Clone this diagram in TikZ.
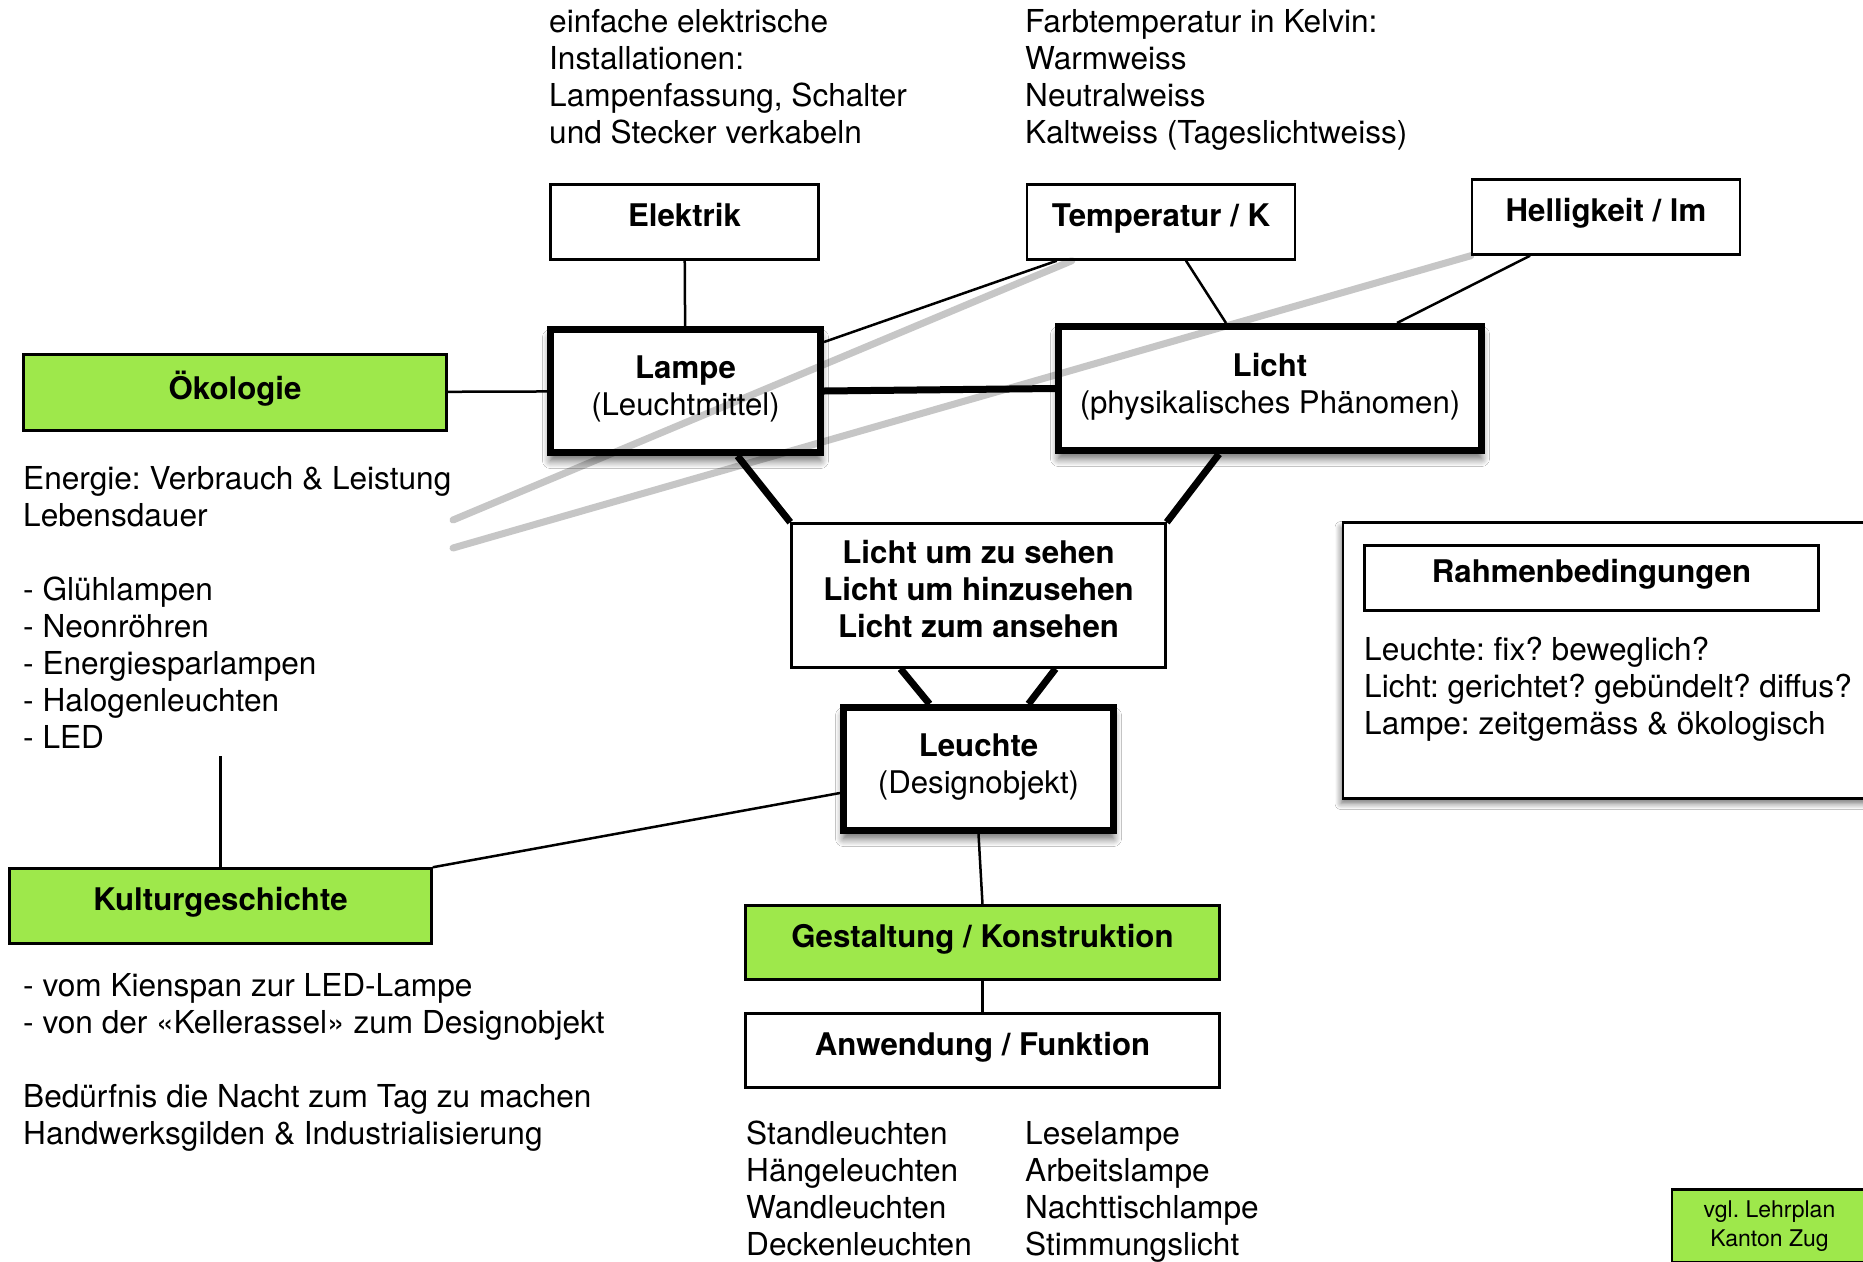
\documentclass[tikz,border=0pt]{standalone}
\usepackage{fontspec}
\setmainfont{TeX Gyre Heros}
\usetikzlibrary{shadows.blur}
\definecolor{kgreen}{RGB}{158,232,75}
\definecolor{kgray}{RGB}{198,198,198}
\newcommand{\dstr}{\rule[-14pt]{0pt}{14pt}}
\newcommand{\tstr}{\rule[-10pt]{0pt}{10pt}}
\frenchspacing
\begin{document}
\frenchspacing
\begin{tikzpicture}[x=1pt,y=-1pt,
  txt/.style={anchor=base west, align=left, inner sep=0pt, font=\fontsize{31.6}{37}\selectfont},
  thinbox/.style={draw, line width=2.5pt, fill=white, align=center, inner sep=0pt,
    font=\bfseries\fontsize{31.2}{37}\selectfont},
  greenbox/.style={thinbox, fill=kgreen},
  thickbox/.style={draw, line width=7pt, fill=white, align=center, inner sep=0pt,
    font=\fontsize{31.2}{37}\selectfont,
    blur shadow={shadow xshift=0pt, shadow yshift=-8pt, shadow blur radius=8pt,
      shadow blur steps=10, shadow opacity=60}},
  link/.style={line width=2.5pt},
  heavy/.style={line width=7pt},
  glink/.style={kgray, line width=7pt, line cap=round}]
\useasboundingbox (0,0) rectangle (1863,1261);
\fill[white] (0,0) rectangle (1863,1261);
\clip (0,0) rectangle (1863,1261);

% top texts (anchor = baseline of last line)
\node[txt] (t1) at (549,143) {einfache elektrische\\Installationen:\\Lampenfassung, Schalter\\und Stecker verkabeln};
\node[txt] (t2) at (1025,143) {Farbtemperatur in Kelvin:\\Warmweiss\\Neutralweiss\\Kaltweiss (Tageslichtweiss)};

% boxes
\node[thinbox, minimum width=268pt, minimum height=75pt] (elek) at (684.5,222) {Elektrik\dstr};
\node[thinbox, minimum width=268pt, minimum height=75pt] (temp) at (1161,222) {Temperatur / K\dstr};
\node[thinbox, minimum width=268pt, minimum height=75pt] (hell) at (1606,217) {Helligkeit / lm\dstr};
\node[greenbox, minimum width=423pt, minimum height=76pt] (oeko) at (235,392.5) {Ökologie\dstr};
\node[thickbox, minimum width=270pt, minimum height=123pt] (lampe) at (685.5,391) {\textbf{Lampe}\\(Leuchtmittel)\tstr};
\node[thickbox, minimum width=423pt, minimum height=124pt] (licht) at (1270,388.5) {\textbf{Licht}\\(physikalisches Phänomen)\tstr};
\node[thinbox, minimum width=374pt, minimum height=144pt] (mid) at (978.5,595.5) {Licht um zu sehen\\Licht um hinzusehen\\Licht zum ansehen\dstr};
\node[thickbox, minimum width=270pt, minimum height=123pt] (leuchte) at (978.5,769) {\textbf{Leuchte}\\(Designobjekt)\tstr};
\node[greenbox, minimum width=422pt, minimum height=75pt] (kultur) at (220.5,906) {Kulturgeschichte\dstr};
\node[greenbox, minimum width=474pt, minimum height=74pt] (gest) at (982.5,942.5) {Gestaltung / Konstruktion\dstr};
\node[thinbox, minimum width=474pt, minimum height=74pt] (anw) at (982.5,1050.5) {Anwendung / Funktion\dstr};

% Rahmenbedingungen
\node[draw, line width=2.5pt, fill=white, minimum width=556pt, minimum height=276pt, inner sep=0pt,
  blur shadow={shadow xshift=-2pt, shadow yshift=-5pt, shadow blur radius=6pt, shadow blur steps=8, shadow opacity=55}]
  (rahmen) at (1621,660.5) {};
\node[thinbox, minimum width=454pt, minimum height=65pt] (rahmenT) at (1591.5,578) {Rahmenbedingungen\dstr};
\node[txt] (t5) at (1364,734) {Leuchte: fix? beweglich?\\Licht: gerichtet? gebündelt? diffus?\\Lampe: zeitgemäss \& ökologisch};

% side texts
\node[txt] (t3) at (23,748) {Energie: Verbrauch \& Leistung\\Lebensdauer\\[37pt]- Glühlampen\\- Neonröhren\\- Energiesparlampen\\- Halogenleuchten\\- LED};
\node[txt] (t4) at (23,1144) {- vom Kienspan zur LED-Lampe\\- von der «Kellerassel» zum Designobjekt\\[37pt]Bedürfnis die Nacht zum Tag zu machen\\Handwerksgilden \& Industrialisierung};
\node[txt] (t6) at (746,1255) {Standleuchten\\Hängeleuchten\\Wandleuchten\\Deckenleuchten};
\node[txt] (t7) at (1025,1255) {Leselampe\\Arbeitslampe\\Nachttischlampe\\Stimmungslicht};

% vgl box
\node[draw, line width=2.5pt, fill=kgreen, minimum width=195pt, minimum height=73pt, inner sep=0pt,
  align=center, font=\fontsize{23}{29}\selectfont] (vgl) at (1769.5,1226) {vgl. Lehrplan\\Kanton Zug};

% connectors
\coordinate (kt) at (220.5,756);
\draw[link] (elek) -- (lampe);
\draw[link] (oeko) -- (lampe);
\draw[link] ([yshift=-16pt]lampe.north east) -- ([xshift=31pt]temp.south west);
\draw[link] ([xshift=25pt]temp.south) -- ([xshift=-44pt]licht.north);
\draw[link] ([xshift=-76pt]hell.south) -- ([xshift=127pt]licht.north);
\draw[heavy] (lampe.east) -- (licht.west);
\draw[heavy] ([xshift=52pt]lampe.south) -- (mid.north west);
\draw[heavy] ([xshift=-51pt]licht.south) -- (mid.north east);
\draw[heavy] ([xshift=-78pt]mid.south) -- ([xshift=-49pt]leuchte.north);
\draw[heavy] ([xshift=77pt]mid.south) -- ([xshift=50pt]leuchte.north);
\draw[link] ([yshift=-24pt]leuchte.west) -- (kultur.north east);
\draw[link] (leuchte.south) -- (gest.north);
\draw[link] (gest) -- (anw);
\draw[link] (kultur.north) -- (kt);

% gray lines
\coordinate (g1) at (453,520);
\coordinate (g2) at (453,548);
\begin{scope}[blend mode=multiply]
\draw[glink] (g1) -- ([xshift=46pt]temp.south west);
\draw[glink] (g2) -- (hell.south west);
\end{scope}
\end{tikzpicture}
\end{document}
